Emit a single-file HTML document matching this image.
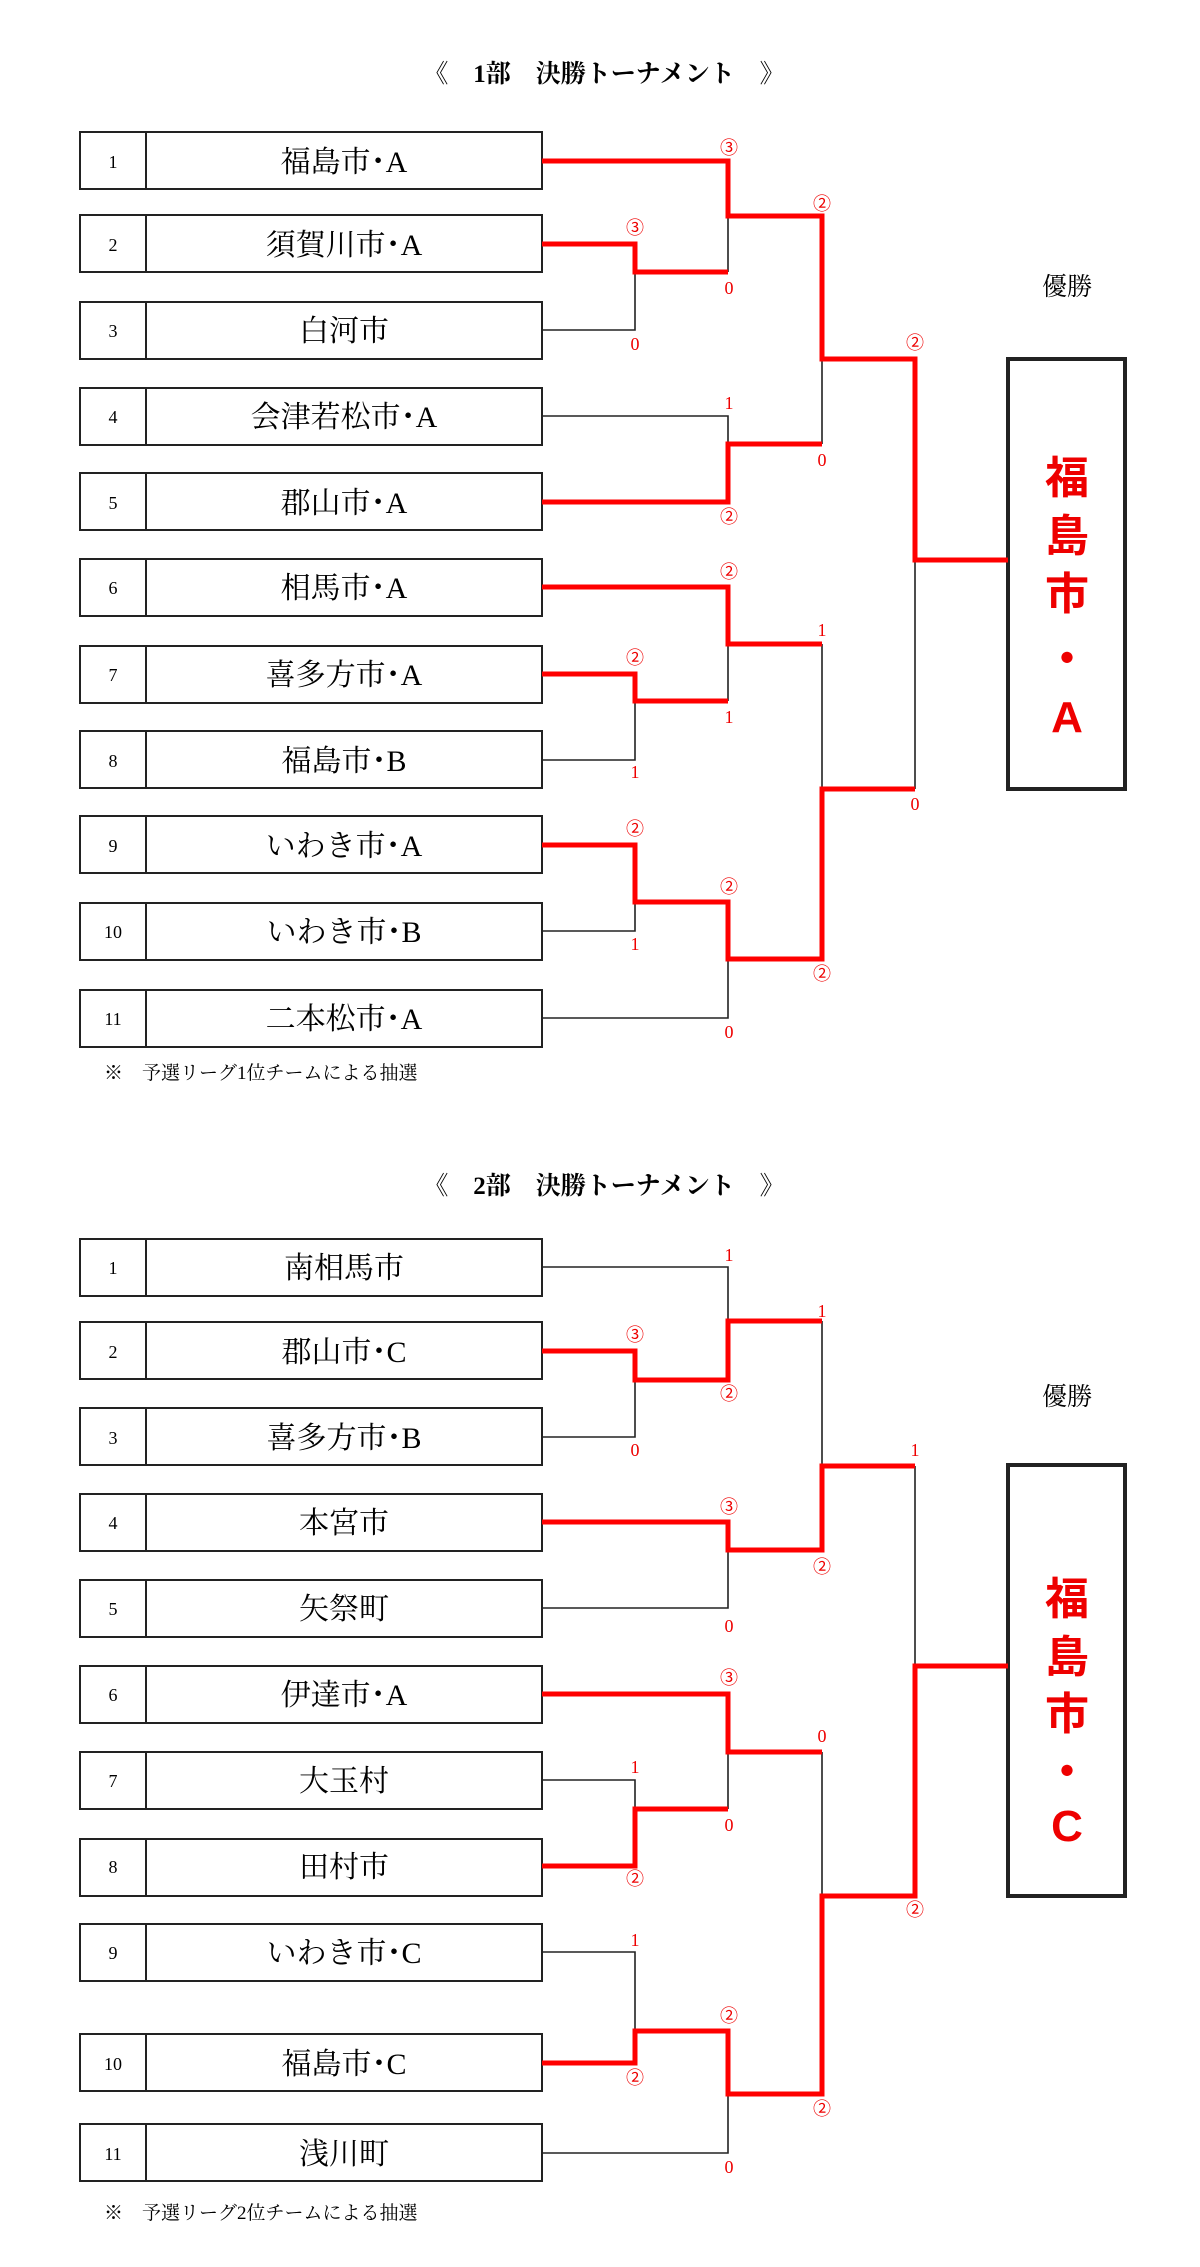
<!DOCTYPE html>
<html><head><meta charset="utf-8"><style>
html,body{margin:0;padding:0;background:#fff;}
svg{display:block;}
.t{font-family:"Liberation Serif","Noto Serif CJK JP",serif;}
.n{font-size:18px;}
.nm{font-size:30px;}
.s{font-size:18px;fill:#e00;font-family:"Liberation Serif","Noto Sans CJK JP",serif;}
.ti{font-size:25px;font-weight:bold;}
.ch{font-size:44px;font-weight:bold;fill:#e00;font-family:"Liberation Sans","Noto Sans CJK JP",sans-serif;}
.bk{stroke:#222;stroke-width:1.6;fill:none;}
.rd{stroke:#f00;stroke-width:5;fill:none;}
</style></head><body>
<svg width="1200" height="2267" viewBox="0 0 1200 2267" xmlns="http://www.w3.org/2000/svg">
<g class="t">
<text class="ti" x="604" y="82" text-anchor="middle">《　1部　決勝トーナメント　》</text>
<text class="ti" x="604" y="1194" text-anchor="middle">《　2部　決勝トーナメント　》</text>
<text x="1067" y="295" text-anchor="middle" font-size="25">優勝</text>
<text x="1067" y="1405" text-anchor="middle" font-size="25">優勝</text>
<text x="104" y="1079" font-size="19">※　予選リーグ1位チームによる抽選</text>
<text x="104" y="2219" font-size="19">※　予選リーグ2位チームによる抽選</text>
</g>
<!-- Section 1 boxes -->
<g fill="none" stroke="#222" stroke-width="2">
<rect x="80" y="132" width="462" height="57"/><rect x="80" y="215" width="462" height="57"/><rect x="80" y="302" width="462" height="57"/><rect x="80" y="388" width="462" height="57"/><rect x="80" y="473" width="462" height="57"/><rect x="80" y="559" width="462" height="57"/><rect x="80" y="646" width="462" height="57"/><rect x="80" y="731" width="462" height="57"/><rect x="80" y="816" width="462" height="57"/><rect x="80" y="903" width="462" height="57"/><rect x="80" y="990" width="462" height="57"/>
<path d="M146 132V189M146 215V272M146 302V359M146 388V445M146 473V530M146 559V616M146 646V703M146 731V788M146 816V873M146 903V960M146 990V1047"/>
<rect x="1008" y="359" width="117" height="430" stroke-width="4"/>
</g>
<g class="t" text-anchor="middle">
<text class="n" x="113" y="168">1</text><text class="nm" x="344" y="172">福島市･A</text>
<text class="n" x="113" y="251">2</text><text class="nm" x="344" y="255">須賀川市･A</text>
<text class="n" x="113" y="337">3</text><text class="nm" x="344" y="341">白河市</text>
<text class="n" x="113" y="423">4</text><text class="nm" x="344" y="427">会津若松市･A</text>
<text class="n" x="113" y="509">5</text><text class="nm" x="344" y="513">郡山市･A</text>
<text class="n" x="113" y="594">6</text><text class="nm" x="344" y="598">相馬市･A</text>
<text class="n" x="113" y="681">7</text><text class="nm" x="344" y="685">喜多方市･A</text>
<text class="n" x="113" y="767">8</text><text class="nm" x="344" y="771">福島市･B</text>
<text class="n" x="113" y="852">9</text><text class="nm" x="344" y="856">いわき市･A</text>
<text class="n" x="113" y="938">10</text><text class="nm" x="344" y="942">いわき市･B</text>
<text class="n" x="113" y="1025">11</text><text class="nm" x="344" y="1029">二本松市･A</text>
</g>
<path class="bk" d="M635 272V330H542M542 416H728V444M728 216V272M822 359V444M635 701V760H542M728 644V701M822 644V789M635 902V931H542M728 959V1018H542M915 560V789"/>
<path class="rd" d="M542 161H728V216H822V359H915V560H1008M542 244H635V272H728M542 502H728V444H822M542 587H728V644H822M542 674H635V701H728M542 845H635V902H728V959H822V789H915"/>
<g class="s" text-anchor="middle">
<text x="729" y="154">③</text><text x="822" y="210">②</text><text x="635" y="234">③</text><text x="729" y="294">0</text><text x="635" y="350">0</text><text x="915" y="349">②</text><text x="729" y="409">1</text><text x="822" y="466">0</text><text x="729" y="523">②</text><text x="729" y="578">②</text><text x="822" y="636">1</text><text x="635" y="664">②</text><text x="729" y="723">1</text><text x="635" y="778">1</text><text x="915" y="810">0</text><text x="635" y="835">②</text><text x="729" y="893">②</text><text x="635" y="950">1</text><text x="822" y="980">②</text><text x="729" y="1038">0</text>
</g>
<g class="ch" text-anchor="middle">
<text x="1067" y="493">福</text><text x="1067" y="551">島</text><text x="1067" y="609">市</text><text x="1067" y="674">・</text><text x="1067" y="732">A</text>
</g>

<!-- Section 2 -->
<g fill="none" stroke="#222" stroke-width="2">
<rect x="80" y="1239" width="462" height="57"/><rect x="80" y="1322" width="462" height="57"/><rect x="80" y="1408" width="462" height="57"/><rect x="80" y="1494" width="462" height="57"/><rect x="80" y="1580" width="462" height="57"/><rect x="80" y="1666" width="462" height="57"/><rect x="80" y="1752" width="462" height="57"/><rect x="80" y="1839" width="462" height="57"/><rect x="80" y="1924" width="462" height="57"/><rect x="80" y="2034" width="462" height="57"/><rect x="80" y="2124" width="462" height="57"/>
<path d="M146 1239V1296M146 1322V1379M146 1408V1465M146 1494V1551M146 1580V1637M146 1666V1723M146 1752V1809M146 1839V1896M146 1924V1981M146 2034V2091M146 2124V2181"/>
<rect x="1008" y="1465" width="117" height="431" stroke-width="4"/>
</g>
<g class="t" text-anchor="middle">
<text class="n" x="113" y="1274">1</text><text class="nm" x="344" y="1278">南相馬市</text>
<text class="n" x="113" y="1358">2</text><text class="nm" x="344" y="1362">郡山市･C</text>
<text class="n" x="113" y="1444">3</text><text class="nm" x="344" y="1448">喜多方市･B</text>
<text class="n" x="113" y="1529">4</text><text class="nm" x="344" y="1533">本宮市</text>
<text class="n" x="113" y="1615">5</text><text class="nm" x="344" y="1619">矢祭町</text>
<text class="n" x="113" y="1701">6</text><text class="nm" x="344" y="1705">伊達市･A</text>
<text class="n" x="113" y="1787">7</text><text class="nm" x="344" y="1791">大玉村</text>
<text class="n" x="113" y="1873">8</text><text class="nm" x="344" y="1877">田村市</text>
<text class="n" x="113" y="1959">9</text><text class="nm" x="344" y="1963">いわき市･C</text>
<text class="n" x="113" y="2070">10</text><text class="nm" x="344" y="2074">福島市･C</text>
<text class="n" x="113" y="2160">11</text><text class="nm" x="344" y="2164">浅川町</text>
</g>
<path class="bk" d="M542 1267H728V1321M635 1380V1437H542M822 1321V1466M728 1550V1608H542M915 1466V1666M728 1752V1809M542 1780H635V1809M822 1752V1896M542 1952H635V2031M728 2094V2153H542"/>
<path class="rd" d="M542 1351H635V1380H728V1321H822M542 1522H728V1550H822V1466H915M542 1694H728V1752H822M542 1866H635V1809H728M542 2063H635V2031H728V2094H822V1896H915V1666H1008"/>
<g class="s" text-anchor="middle">
<text x="729" y="1261">1</text><text x="822" y="1317">1</text><text x="635" y="1341">③</text><text x="729" y="1400">②</text><text x="635" y="1456">0</text><text x="915" y="1456">1</text><text x="729" y="1513">③</text><text x="822" y="1573">②</text><text x="729" y="1632">0</text><text x="729" y="1684">③</text><text x="822" y="1742">0</text><text x="635" y="1773">1</text><text x="729" y="1831">0</text><text x="635" y="1885">②</text><text x="915" y="1916">②</text><text x="635" y="1946">1</text><text x="729" y="2022">②</text><text x="635" y="2084">②</text><text x="822" y="2115">②</text><text x="729" y="2173">0</text>
</g>
<g class="ch" text-anchor="middle">
<text x="1067" y="1614">福</text><text x="1067" y="1672">島</text><text x="1067" y="1729">市</text><text x="1067" y="1787">・</text><text x="1067" y="1841">C</text>
</g>
</svg>
</body></html>
